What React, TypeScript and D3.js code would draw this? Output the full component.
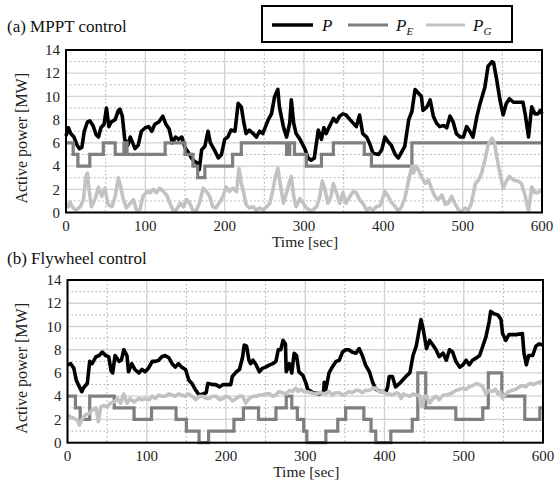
import { curveLinear, curveStepAfter, line, scaleLinear } from 'd3'

type Pt = [number, number]

// axis ticks
const xTicks = [0, 100, 200, 300, 400, 500, 600]
const xMinor = [50, 150, 250, 350, 450, 550]
const yTicks = [0, 2, 4, 6, 8, 10, 12, 14]
const yMinor = [1, 3, 5, 7, 9, 11, 13]

// (a) MPPT control, [time sec, MW]
const mpptP: Pt[] = [
  [0, 6.6], [3, 7.3], [6, 6.8], [10, 6.5], [14, 5.8], [17, 5.5], [20, 5.6], [23, 7], [27, 7.8], [30, 7.9],
  [34, 7.5], [38, 6.7], [41, 6.5], [44, 7.3], [48, 7.6], [51, 9], [54, 7.4], [57, 7.8], [62, 8], [66, 8.8],
  [68, 8.9], [71, 8.3], [74, 6.3], [78, 5.8], [81, 6.5], [84, 6], [87, 5.5], [91, 5.8], [95, 7], [100, 7.3],
  [104, 7.4], [108, 7], [112, 7.6], [117, 7.8], [122, 8.3], [126, 7.6], [130, 7.2], [134, 6], [138, 6.5], [142, 6.3],
  [146, 6.5], [150, 5.6], [154, 5.2], [158, 4.7], [162, 4.4], [165, 4.3], [168, 3.7], [171, 5.4], [175, 5.7], [179, 7],
  [182, 6], [187, 5.4], [192, 4.7], [196, 5], [200, 6.3], [204, 6.5], [208, 7.1], [213, 7], [217, 9.4], [221, 9.1],
  [224, 7.8], [227, 6.8], [231, 7.1], [236, 6.8], [240, 6.5], [244, 7], [248, 6.8], [255, 8], [259, 8.5], [263, 10],
  [267, 10.6], [269, 9.1], [274, 7.4], [278, 6.5], [282, 7.7], [284, 9.7], [287, 7.7], [290, 6.8], [295, 6.3], [301, 5.5],
  [305, 4.7], [309, 4.5], [313, 4.7], [318, 7.1], [322, 6.3], [325, 7.3], [328, 6.8], [332, 7.4], [337, 8.1], [341, 7.8],
  [345, 8.3], [349, 8.5], [353, 8.4], [358, 8], [362, 7.7], [366, 7.4], [370, 8.4], [374, 6.8], [379, 6.5], [383, 5.9],
  [387, 5.1], [394, 5], [398, 5.4], [402, 6.5], [406, 6.1], [410, 5.8], [415, 5], [419, 4.7], [423, 5.2], [427, 5.7],
  [432, 8], [436, 8.7], [440, 10.6], [444, 10.3], [448, 10], [450, 8.8], [455, 9.1], [459, 9.7], [463, 8.3], [467, 7.7],
  [471, 7.4], [476, 7.5], [480, 7.3], [484, 8.3], [488, 7.8], [492, 6.8], [497, 6.5], [501, 6.5], [505, 7.4], [509, 7],
  [513, 6.5], [518, 8.3], [522, 9.4], [528, 10.8], [532, 12.6], [537, 13], [539, 12.9], [543, 11.4], [547, 9.7], [551, 8.4],
  [555, 9.4], [559, 9.8], [564, 9.5], [570, 9.5], [576, 9.5], [579, 8.4], [583, 6.5], [587, 9.1], [591, 8.5], [595, 8.5],
  [598, 8.8], [600, 8.5],
]

// step levels: value holds from t until the next t
const mpptPE: Pt[] = [
  [0, 6], [9, 5], [15, 4], [30, 5], [47, 6], [62, 5], [73, 6], [77, 5], [125, 6], [150, 5],
  [160, 4], [166, 3], [175, 4], [210, 5], [221, 6], [278, 5], [282, 6], [288, 5], [303, 4], [322, 5],
  [337, 6], [376, 5], [385, 4], [436, 6], [600, 6],
]

const mpptPG: Pt[] = [
  [0, 0.8], [3, 0.5], [5, 0.9], [7, 0.6], [9, 0.4], [13, 0.2], [18, 0.5], [22, 1.1], [25, 3.1], [27, 3.4],
  [29, 2], [32, 0.5], [37, 1.2], [41, 2.2], [45, 1.4], [49, 2.1], [53, 0.7], [58, 0.5], [62, 1.4], [66, 3],
  [69, 2.2], [72, 1.2], [76, 0.4], [81, 0.8], [85, 1.1], [89, 0.2], [93, 0.2], [97, 1.4], [102, 1.8], [106, 1.7],
  [110, 2], [114, 1.7], [118, 2.1], [123, 1.8], [127, 1.5], [131, 0.8], [135, 0.2], [139, 0.2], [144, 0.8], [148, 0.5],
  [152, 1.1], [156, 0.8], [160, 0.2], [164, 0.1], [168, 0.8], [173, 2.1], [177, 1.8], [181, 1.4], [185, 0.5], [189, 0.4],
  [194, 0.9], [198, 1.4], [202, 2.2], [206, 1.8], [210, 2.1], [215, 1.8], [218, 3.8], [221, 2.5], [224, 1.7], [227, 0.7],
  [231, 0.4], [236, 0.5], [240, 0.2], [244, 0.4], [248, 0.2], [253, 0.5], [257, 0.8], [261, 2], [264, 3.1], [267, 3.8],
  [270, 2.5], [274, 0.8], [278, 1.7], [282, 2.7], [284, 3.1], [287, 1.4], [290, 0.5], [295, 1.2], [299, 0.8], [303, 0.4],
  [307, 0.2], [311, 0.2], [316, 0.5], [320, 1.4], [323, 2.7], [326, 2.1], [330, 0.8], [334, 1.4], [337, 2.5], [341, 1.7],
  [345, 0.8], [349, 1.7], [353, 0.8], [358, 1.4], [362, 1.8], [366, 1.7], [370, 1.1], [374, 0.8], [379, 0.2], [383, 0.4],
  [387, 0.2], [391, 0.5], [396, 0.6], [402, 1.8], [406, 1.4], [410, 0.9], [415, 0.5], [419, 0.1], [423, 0.5], [427, 1.2],
  [432, 2.8], [436, 4], [438, 3.4], [441, 4], [444, 3.7], [448, 3.1], [453, 2.5], [457, 2.8], [461, 2], [465, 1.4],
  [469, 1.1], [474, 1.5], [478, 0.7], [482, 0.8], [486, 1.4], [490, 0.8], [495, 0.2], [499, 0.1], [503, 0.4], [507, 0.2],
  [511, 0.8], [516, 2.5], [520, 2.8], [524, 3.4], [528, 4.5], [532, 5.8], [537, 6.4], [540, 6], [543, 4.8], [547, 3.4],
  [551, 2.1], [555, 2.7], [559, 3.1], [564, 2.8], [570, 2.7], [574, 2.5], [579, 1.4], [583, 0.1], [587, 2.2], [591, 1.7],
  [595, 1.7], [600, 2],
]

// (b) Flywheel control
const flyP: Pt[] = [
  [0, 6.7], [4, 6.8], [8, 6.4], [11, 5.4], [15, 4.8], [18, 4.4], [21, 4.8], [25, 5.1], [28, 7], [31, 6.8],
  [36, 7.4], [40, 7.5], [44, 7.8], [48, 7.5], [52, 7.4], [55, 6.2], [57, 6], [60, 7.5], [65, 7], [68, 7.1],
  [71, 8], [75, 7.5], [77, 6.1], [81, 6.8], [85, 6.3], [90, 6], [94, 6.3], [98, 6.1], [102, 6.4], [107, 7],
  [111, 7], [115, 7.1], [119, 7.4], [123, 7.5], [128, 7.3], [132, 6.8], [136, 6.5], [140, 6.8], [144, 6.5], [149, 6.3],
  [153, 5.4], [157, 5.1], [161, 4.6], [166, 4.1], [171, 4.2], [175, 4.3], [177, 5.1], [183, 5], [187, 5], [192, 4.8],
  [196, 5], [200, 5], [206, 5], [208, 5.7], [213, 6.1], [217, 6.3], [221, 7.4], [223, 8.4], [226, 8.3], [229, 7.1],
  [231, 6.8], [234, 7.1], [238, 6.7], [242, 6.1], [246, 6.4], [250, 6.5], [255, 6.7], [259, 6.8], [263, 7], [266, 8],
  [269, 8], [272, 8.8], [275, 8.5], [276, 6.1], [280, 6.8], [283, 6], [286, 7.7], [289, 7.5], [292, 6.1], [297, 5.8],
  [301, 5.1], [303, 4.6], [310, 4.3], [318, 4.2], [323, 4.3], [324, 5.2], [326, 4.6], [330, 6], [334, 6.5], [339, 7],
  [343, 7.1], [347, 7.8], [351, 8], [355, 8], [359, 7.8], [364, 7.7], [368, 8.1], [372, 7.5], [376, 6.7], [381, 6.1],
  [385, 5.2], [389, 4.6], [395, 4.4], [402, 4.4], [404, 4.8], [406, 5.7], [410, 5.7], [414, 4.8], [419, 5.1], [423, 5.4],
  [427, 5.7], [432, 6], [436, 7.5], [440, 8.3], [444, 9.8], [446, 10.6], [449, 9.7], [453, 8.1], [457, 8.8], [461, 8.4],
  [465, 8], [469, 7.4], [474, 7.7], [478, 7.1], [482, 8], [486, 7.8], [490, 7], [495, 6.5], [499, 6.7], [503, 7.1],
  [507, 6.7], [511, 7.1], [516, 7.3], [520, 7.5], [524, 8.3], [528, 9.1], [532, 10.4], [534, 11.3], [538, 11.1], [543, 11],
  [547, 10.6], [549, 9.4], [553, 8.8], [557, 9.3], [566, 9.3], [574, 9.4], [576, 7.7], [579, 6.7], [582, 7.5], [587, 7.5],
  [591, 8.3], [595, 8.5], [600, 8.4],
]

const flyPE: Pt[] = [
  [0, 4], [10, 3], [16, 2], [28, 4], [59, 3], [84, 2], [106, 3], [137, 2], [150, 1], [166, 0],
  [178, 1], [210, 2], [222, 3], [241, 2], [263, 3], [276, 4], [283, 3], [290, 2], [298, 1], [302, 0],
  [326, 1], [341, 2], [351, 3], [374, 2], [383, 1], [389, 0], [408, 1], [435, 2], [442, 6], [452, 3],
  [490, 2], [524, 3], [531, 6], [548, 4], [577, 2], [596, 3], [600, 3],
]

const flyPG: Pt[] = [
  [0, 2.4], [4, 2.2], [8, 2.1], [13, 1.9], [15, 1.5], [19, 2.1], [23, 2.4], [27, 2.5], [31, 2.8], [36, 3],
  [39, 1.8], [42, 3.1], [46, 3.2], [50, 3.1], [54, 3.4], [59, 3.5], [63, 3.8], [67, 3.4], [71, 4.2], [75, 3.4],
  [79, 3.8], [84, 3.5], [90, 3.8], [94, 3.7], [98, 3.8], [103, 3.7], [107, 4], [111, 3.8], [115, 4.1], [119, 4],
  [123, 4], [128, 4.2], [132, 4.1], [136, 4], [140, 4.2], [144, 4.1], [149, 4], [153, 4.2], [157, 4], [162, 3.7],
  [166, 4], [171, 4], [175, 3.8], [179, 3.8], [183, 4], [187, 4], [192, 3.7], [196, 3.8], [200, 4], [204, 3.9],
  [208, 3.6], [213, 3.8], [217, 4], [221, 4], [225, 3.4], [229, 3.8], [234, 4], [238, 4], [242, 4.1], [246, 4.1],
  [250, 4.2], [255, 4.2], [259, 4], [263, 4.1], [267, 4.4], [271, 4.3], [276, 4.2], [280, 4.5], [284, 4.4], [288, 4.7],
  [291, 4.4], [294, 4.6], [298, 4.4], [301, 4.4], [307, 4.3], [313, 4.2], [319, 4.3], [326, 4.2], [330, 4.4], [334, 4.1],
  [338, 4.3], [343, 4.3], [347, 4.1], [351, 4.2], [355, 4.4], [359, 4.3], [364, 4.5], [368, 4.5], [372, 4.3], [376, 4.5],
  [381, 4.5], [385, 4.7], [389, 4.7], [393, 4.4], [398, 4.4], [402, 4.2], [406, 4.2], [410, 4.1], [415, 4.3], [418, 4.2],
  [421, 3.8], [424, 4.2], [427, 4.1], [432, 4], [436, 4.2], [440, 4.1], [444, 4.1], [446, 3.2], [448, 3.1], [450, 4],
  [453, 4], [457, 3.4], [461, 3.8], [465, 4], [469, 3.7], [474, 4.1], [478, 4.1], [482, 4.2], [486, 4.3], [490, 4.5],
  [495, 4.6], [499, 4.7], [503, 4.6], [507, 4.8], [511, 4.9], [516, 5.1], [520, 5], [524, 4.8], [528, 4.2], [532, 4.5],
  [536, 4.4], [540, 4.6], [543, 4.2], [546, 4.4], [549, 3.8], [553, 4.2], [557, 4.4], [561, 4.5], [566, 4.6], [570, 4.8],
  [574, 4.9], [578, 4.8], [581, 5], [584, 5.1], [588, 5], [591, 5.1], [595, 5.2], [600, 5.3],
]

const serif = '"Liberation Serif", "DejaVu Serif", serif'
const colP = '#000000'
const colPE = '#7f7f7f'
const colPG = '#c2c2c2'

type Box = { left: number; right: number; top: number; bottom: number }

function Panel({ title, titleY, box, p, pe, pg }: { title: string; titleY: number; box: Box; p: Pt[]; pe: Pt[]; pg: Pt[] }) {
  const x = scaleLinear().domain([0, 600]).range([box.left, box.right])
  const y = scaleLinear().domain([0, 14]).range([box.bottom, box.top])
  const path = line<Pt>().x((d) => x(d[0])).y((d) => y(d[1])).curve(curveLinear)
  const step = line<Pt>().x((d) => x(d[0])).y((d) => y(d[1])).curve(curveStepAfter)
  const midY = (box.top + box.bottom) / 2 + 7
  const midX = (box.left + box.right) / 2 + 1

  return (
    <g>
      <text x={7} y={titleY} fontFamily={serif} fontSize={17} fill="#111">
        {title}
      </text>
      {/* grid */}
      {yMinor.map((v) => (
        <line key={'ym' + v} x1={box.left} x2={box.right} y1={y(v)} y2={y(v)} stroke="#a8a8a8" strokeWidth={1} strokeDasharray="1.5 2.5" />
      ))}
      {xMinor.map((v) => (
        <line key={'xm' + v} x1={x(v)} x2={x(v)} y1={box.top} y2={box.bottom} stroke="#a8a8a8" strokeWidth={1} strokeDasharray="1.5 2.5" />
      ))}
      {yTicks.map((v) => (
        <line key={'yg' + v} x1={box.left} x2={box.right} y1={y(v)} y2={y(v)} stroke="#d2d2d2" strokeWidth={1.3} />
      ))}
      {xTicks.map((v) => (
        <line key={'xg' + v} x1={x(v)} x2={x(v)} y1={box.top} y2={box.bottom} stroke="#d2d2d2" strokeWidth={1.3} />
      ))}
      {/* series */}
      <path d={path(p) ?? ''} fill="none" stroke={colP} strokeWidth={3.6} strokeLinejoin="round" />
      <path d={step(pe) ?? ''} fill="none" stroke={colPE} strokeWidth={3.2} />
      <path d={path(pg) ?? ''} fill="none" stroke={colPG} strokeWidth={3.6} strokeLinejoin="round" />
      {/* frame */}
      <rect x={box.left} y={box.top} width={box.right - box.left} height={box.bottom - box.top} fill="none" stroke="#000" strokeWidth={2} />
      {/* tick labels */}
      {yTicks.map((v) => (
        <text key={'yl' + v} x={box.left - 6} y={y(v)} dy="0.35em" textAnchor="end" fontFamily={serif} fontSize={15} fill="#222">
          {v}
        </text>
      ))}
      {xTicks.map((v) => (
        <text key={'xl' + v} x={x(v)} y={box.bottom + 18.5} textAnchor="middle" fontFamily={serif} fontSize={15} fill="#222">
          {v}
        </text>
      ))}
      <text x={midX} y={box.bottom + 34} textAnchor="middle" fontFamily={serif} fontSize={15.5} fill="#222">
        Time [sec]
      </text>
      <text transform={`translate(27,${midY}) rotate(-90)`} textAnchor="middle" fontFamily={serif} fontSize={16} fill="#222">
        Active power [MW]
      </text>
    </g>
  )
}

function Legend() {
  const items = [
    { x1: 272, x2: 313, tx: 322, color: colP, width: 3.6, sub: '' },
    { x1: 348, x2: 388, tx: 396, color: colPE, width: 3.2, sub: 'E' },
    { x1: 426, x2: 465, tx: 473, color: colPG, width: 3.2, sub: 'G' },
  ]
  return (
    <g>
      <rect x={262} y={6} width={250} height={36} fill="#fff" stroke="#000" strokeWidth={2} />
      {items.map((it) => (
        <g key={it.tx}>
          <line x1={it.x1} x2={it.x2} y1={25} y2={25} stroke={it.color} strokeWidth={it.width} />
          <text x={it.tx} y={31} fontFamily={serif} fontSize={17} fontStyle="italic" fill="#111">
            P
            {it.sub && (
              <tspan fontSize={11} dy={4}>
                {it.sub}
              </tspan>
            )}
          </text>
        </g>
      ))}
    </g>
  )
}

export default function App() {
  return (
    <svg width={555} height={481} style={{ position: 'absolute', left: 0, top: 0, background: '#fff' }}>
      <Panel title="(a) MPPT control" titleY={32} box={{ left: 66, right: 542, top: 50, bottom: 212.5 }} p={mpptP} pe={mpptPE} pg={mpptPG} />
      <Panel title="(b) Flywheel control" titleY={264} box={{ left: 67.5, right: 543, top: 280, bottom: 442.7 }} p={flyP} pe={flyPE} pg={flyPG} />
      <Legend />
    </svg>
  )
}
